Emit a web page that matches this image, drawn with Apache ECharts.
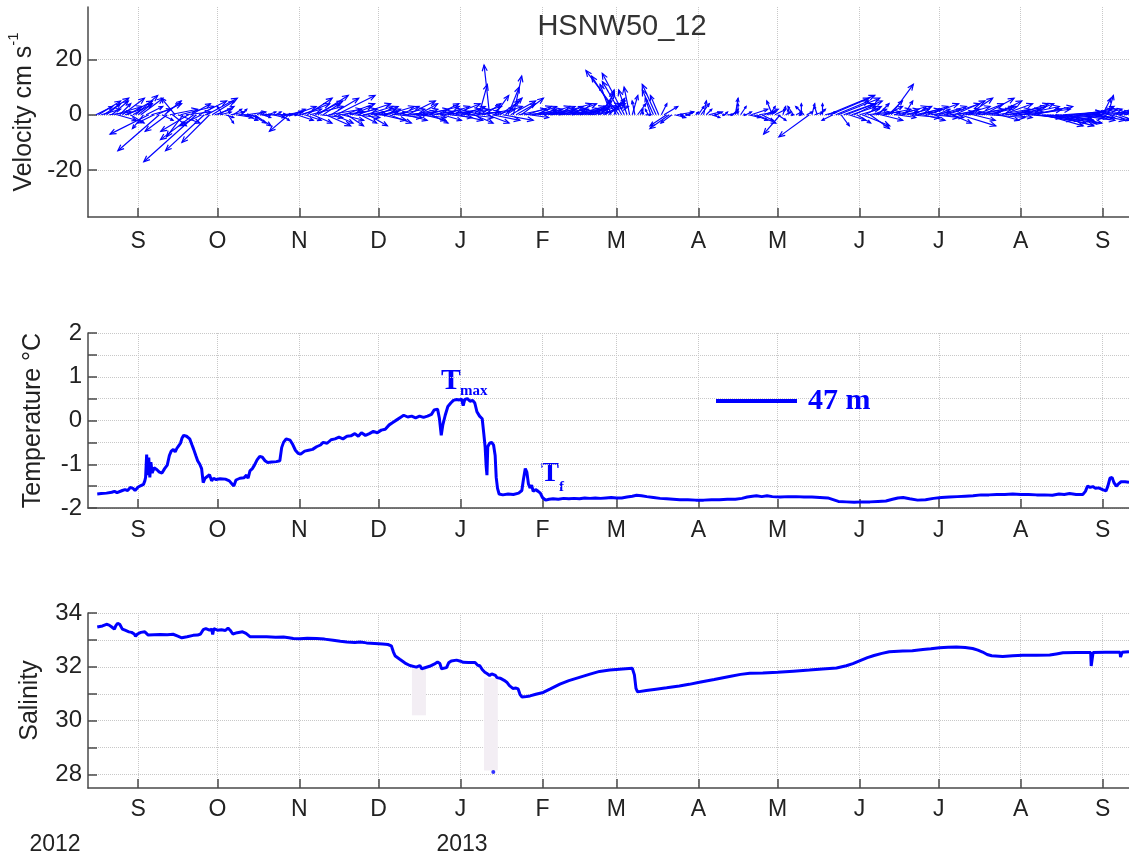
<!DOCTYPE html>
<html>
<head>
<meta charset="utf-8">
<script src="https://cdn.jsdelivr.net/npm/echarts@6.0.0/dist/echarts.min.js"></script>
<style>
  html, body { margin: 0; padding: 0; background: #fff; }
  #chart { width: 1129px; height: 855px; }
</style>
</head>
<body>
<div id="chart"></div>
<script>
// Time is counted in days from 1 Sep 2012.
const monthDays = [0, 30, 61, 91, 122, 153, 181, 212, 242, 273, 303, 334, 365];
const monthLabels = ['S', 'O', 'N', 'D', 'J', 'F', 'M', 'A', 'M', 'J', 'J', 'A', 'S'];
const dayMin = -19;
const dayMax = 375;

// Daily current vectors (cm/s), first sample on 16 Aug 2012.
const velStartDay = -16;
const velU = [
  6, 8, 7, 9, 5, 8, 6, 10, 7, 4, 8, 6, 9, 5, 7, 8,
  5, 8, -4, 6, -14, 7, -6, 9, -15, 4, 6, -8, 10, 5, -5, 8, 12, -6, 9, -10, 7, -12, -19, 10, -8, -14, 11, -10, 8, 6,
  6, 4, -2, 3, 2, 5, 3, 6, 4, 2, 5, 7, 3, 5, 6, 2, 4, 3, 1, 3, 6, 4, 2, 5, 3, 7, 4, -7, 5, 8, 6,
  8, 10, 6, 9, 12, 7, 10, 11, 8, 6, 9, 12, 10, 7, 14, 9, 8, 11, 6, 10, 7, 9, 12, 6, 8, 10, 7, 9, 5, 8,
  7, 9, 6, 10, 8, 5, 11, 9, 7, 12, 8, 10, 6, 9, 11, 7, 10, 8, 12, 9, 6, 10, 8, 11, 7, 9, 12, 8, 10, 6, 9,
  10, 8, 12, 9, 11, 7, 9, 3, 12, 6, 8, -2, 10, 5, 9, 7, 11, 6, 4, 9, 3, 7, 10, 8, 12, 9, 7, 11, 8, 10, 6,
  12, 9, 14, 10, 8, 13, 11, 9, 7, 12, 10, 8, 11, 9, 6, 10, 8, 12, 7, 9, 6, 11, 5, 8, 3, 6, -4, 4,
  -9, -12, -7, -8, -3, -2, 2, -1, 3, 1, 0, 2, -1, -2, -4, -5, -3, 2, 5, -6, -7, -4, 4, 6, 1, 0, 1, 2, -1, 0, 1,
  2, 3, 1, 2, 4, 3, 1, 2, 0, 1, 1, 2, 3, 2, 1, 0, 2, 1, 2, 4, 6, 5, 7, 6, 4, 5, 3, 2, -2, 4,
  3, -6, 1, 2, 0, 1, -2, 2, 1, 0, -3, 2, -11, 1, 3, -1, 2, 0, 4, 17, 14, -4, 12, 15, 3, 11, 13, 6, 9, 8, 5,
  7, 10, 6, 8, 7, 5, 9, 4, 8, 10, 6, 5, 8, 9, 7, 10, 6, 3, 8, 11, 7, 9, 5, 10, 8, 6, 11, 7, 9, 5,
  10, 8, 6, 12, 9, 7, 11, 8, 13, 10, 6, 9, 12, 8, 10, 14, 7, 11, 9, 13, 8, 10, 12, 7, 11, 9, 14, 8, 10, 12, 9,
  14, 11, 16, 12, 15, 10, 13, 17, 12, 14, 18, 11, 15, 13, 16, 12, 14, 10, 13, 11, 15, 9, 12, 10, 8, 11, 9, 12, 7, 10, 8,
  3, 9, 2, 7, 10, 6, 8, 5, 7, 4, 6
];
const velV = [
  3, 5, 2, 6, 4, 1, 5, 3, -2, 4, 6, 2, 5, -3, 4, 7,
  4, 6, -5, 3, -7, 2, -3, 4, -13, -2, 5, -6, 2, -4, 6, -3, 3, -8, 1, -6, 4, -9, -17, 5, -4, -13, 6, -10, 5, 2,
  3, 1, 3, -1, -3, 1, 2, -1, 0, 2, -2, 1, -1, -3, -4, 1, 0, -1, 0, 1, 0, -1, 1, 0, -2, 1, 0, -6, 2, 3, -2,
  2, 4, -2, 6, 3, -3, 5, 7, -1, 4, -4, 2, 6, -3, 7, 1, -2, 4, -4, 2, 3, -1, 4, -3, 1, 3, -4, 2, 0, 3,
  1, -2, 2, 3, -3, 1, 2, -1, 3, 1, -2, 5, 0, 2, -1, 4, 2, -2, 3, 1, -3, 2, 4, 1, -2, 3, 2, -1, 4, 1, -2,
  2, 3, 1, -1, 3, -3, 1, 11, 2, 4, -3, 18, -2, 7, 3, 5, -2, 6, 10, 5, 14, 4, 2, 6, 1, 3, -1, 2, 3, 1, 2,
  2, 3, 2, 1, 3, 4, 2, 1, 3, 2, 4, 1, 3, 2, 1, 3, 2, 4, 1, 3, 5, 3, 8, 4, 9, 5, 11, 6,
  14, 16, 12, 15, 9, 10, 7, 5, 4, 2, 1, 0, 2, 6, 9, 11, 7, 4, 3, -4, -5, -3, -1, 1, 0, -1, 0, 1, 0, 0, 1,
  3, 4, 5, 2, 1, -1, 0, 1, 0, 0, 1, 0, 1, 2, 6, 4, 3, 0, 1, -1, 2, -2, -3, 1, -2, 2, 1, 3, 5, 2,
  -2, -7, 3, 1, 2, 0, 3, 1, 0, 4, 3, 1, -8, 4, 1, 3, 2, 4, 1, 7, 6, -2, 5, 6, -4, 4, 5, -2, 3, 4, -3,
  2, -4, 3, 1, -5, 2, 1, 4, -2, 2, 3, 5, 11, 2, -1, 3, 1, 5, 2, -1, 3, 2, 1, 3, -2, 2, 4, 1, -1, 2,
  3, -1, 2, 4, 1, -3, 5, 2, -4, 3, 1, 6, 2, -2, 4, 3, 1, 6, 2, -1, 3, 5, 2, -2, 4, 1, 3, -1, 2, 4, 1,
  3, 4, 2, -1, 3, 2, -2, -3, -1, -4, -3, -2, -4, -1, -3, -2, 1, -2, -1, 1, -2, 0, 2, -1, 1, 2, -1, 1, 3, -2, 2,
  6, 1, 7, -2, 3, 1, -3, 2, 1, 2, 0
];
const velTicks = [-20, 0, 20];

// Temperature at 47 m: [day, degC]
const temperature = [
  [-15.5, -1.68], [-14, -1.67], [-12, -1.66], [-10, -1.64], [-9, -1.62], [-8, -1.65], [-6, -1.60],
  [-5, -1.58], [-4, -1.60], [-3, -1.53], [-2, -1.55], [-1.2, -1.60], [0, -1.52], [1, -1.49], [2, -1.46],
  [2.5, -1.38], [2.8, -1.30], [3.2, -0.78], [3.6, -1.25], [4.0, -0.85], [4.4, -1.30], [4.8, -0.95],
  [5.3, -1.20], [6, -1.08], [7, -1.12], [8, -1.18], [9, -1.20], [10, -1.10], [11, -1.02], [11.8, -0.80],
  [12.5, -0.70], [13.3, -0.66], [14, -0.72], [14.6, -0.64], [15.3, -0.58], [16, -0.52], [16.6, -0.40],
  [17.2, -0.34], [17.8, -0.30], [18.3, -0.36], [18.8, -0.32], [19.5, -0.42], [20.3, -0.55], [21, -0.66],
  [21.8, -0.80], [22.5, -0.92], [23.3, -1.00], [24, -1.10], [24.6, -1.42], [25.3, -1.32], [26, -1.28],
  [27, -1.24], [27.8, -1.38], [28.5, -1.32], [29.5, -1.35], [31, -1.33], [33, -1.34], [34.5, -1.38],
  [35.5, -1.45], [36.2, -1.50], [37, -1.36], [38.5, -1.32], [40, -1.31], [41, -1.25], [41.6, -1.32],
  [42.3, -1.15], [43.2, -1.10], [44, -1.02], [45, -0.90], [46, -0.82], [47, -0.84], [48, -0.92],
  [49, -0.96], [50.5, -0.95], [52.3, -0.94], [53.6, -0.92], [54.3, -0.62], [55, -0.50], [56, -0.42],
  [57.5, -0.45], [58.5, -0.55], [59.5, -0.68], [60.5, -0.75], [61.5, -0.77], [63, -0.70], [64.5, -0.68],
  [66, -0.66], [67.5, -0.60], [69, -0.56], [70, -0.50], [71.5, -0.52], [73, -0.44], [74.5, -0.42],
  [76, -0.38], [77.5, -0.42], [79, -0.36], [80.5, -0.35], [82, -0.30], [83.3, -0.36], [84.5, -0.28],
  [86, -0.34], [87.5, -0.30], [89, -0.25], [90.5, -0.28], [92, -0.22], [93.5, -0.20], [95, -0.10],
  [96.5, -0.04], [98, 0.02], [99.5, 0.08], [100.5, 0.12], [102, 0.08], [103.5, 0.10], [105, 0.06],
  [106.5, 0.10], [108, 0.07], [109.5, 0.10], [111, 0.14], [112, 0.24], [113.3, 0.26], [114, 0.05],
  [114.7, -0.34], [115.3, -0.10], [116.2, 0.12], [117.2, 0.32], [118.3, 0.40], [119.3, 0.46],
  [120.5, 0.48], [121.5, 0.47], [122.4, 0.49], [123, 0.34], [123.6, 0.48], [124.6, 0.50], [125.6, 0.44],
  [126.6, 0.46], [127.4, 0.40], [128.2, 0.20], [129.2, 0.10], [130.2, 0.04], [130.8, -0.30],
  [131.3, -0.60], [131.7, -1.05], [132, -1.25], [132.3, -0.60], [133, -0.52], [133.8, -0.50],
  [134.5, -0.56], [135.1, -0.80], [135.5, -1.30], [136, -1.55], [136.6, -1.68], [138, -1.70],
  [140, -1.68], [142, -1.69], [144, -1.66], [145.2, -1.60], [145.8, -1.35], [146.5, -1.10],
  [147.1, -1.18], [147.7, -1.45], [148.3, -1.54], [148.9, -1.48], [149.5, -1.62], [150.4, -1.58],
  [151.4, -1.62], [152.2, -1.66], [153, -1.76], [154.2, -1.82], [155.5, -1.80], [157, -1.79],
  [159, -1.80], [161, -1.78], [163, -1.79], [165, -1.78], [167, -1.79], [169, -1.77], [171, -1.78],
  [173, -1.77], [175, -1.78], [177, -1.77], [179, -1.76], [181, -1.77], [183, -1.77], [185, -1.75],
  [187, -1.73], [188.6, -1.71], [190.5, -1.72], [192.5, -1.74], [195, -1.76], [197.5, -1.78],
  [200, -1.79], [202.5, -1.80], [205, -1.81], [208, -1.81], [211, -1.82], [214, -1.82], [217, -1.81],
  [220, -1.81], [223, -1.80], [226, -1.80], [228.5, -1.78], [230.5, -1.75], [232.5, -1.73],
  [234, -1.72], [236, -1.74], [238, -1.72], [240, -1.74], [243, -1.75], [246, -1.74], [249, -1.74],
  [252, -1.75], [255, -1.75], [258, -1.76], [261, -1.77], [263, -1.81], [265, -1.85], [268, -1.86],
  [271, -1.87], [274, -1.86], [277, -1.86], [280, -1.85], [283, -1.84], [285.5, -1.80], [287.5, -1.77],
  [289.5, -1.76], [292, -1.79], [295, -1.82], [298, -1.81], [301, -1.78], [304, -1.76], [307, -1.75],
  [310, -1.74], [313, -1.73], [316, -1.72], [319, -1.70], [322, -1.70], [325, -1.69], [328, -1.69],
  [331, -1.68], [334, -1.69], [337, -1.69], [340, -1.70], [343, -1.70], [346, -1.71], [348.5, -1.68],
  [350.5, -1.69], [352.5, -1.67], [355, -1.69], [357.5, -1.69], [358.5, -1.62], [359.3, -1.50],
  [360.3, -1.53], [361.3, -1.51], [362.3, -1.55], [363.5, -1.54], [365, -1.58], [366.3, -1.61],
  [367, -1.50], [367.8, -1.32], [368.6, -1.30], [369.3, -1.42], [370.2, -1.50], [371, -1.45],
  [372, -1.40], [373.5, -1.40], [375, -1.41]
];

// Salinity at 47 m: [day, psu]
const salinity = [
  [-15.5, 33.48], [-13.5, 33.52], [-12, 33.58], [-11, 33.55], [-10, 33.48], [-9, 33.40], [-8.5, 33.52],
  [-7.8, 33.62], [-7, 33.58], [-6, 33.40], [-5, 33.36], [-3.5, 33.30], [-2.5, 33.28], [-1.5, 33.22],
  [-1, 33.14], [-0.3, 33.22], [1, 33.28], [2.5, 33.30], [3.8, 33.18], [6, 33.19], [8.3, 33.20],
  [11, 33.19], [13.2, 33.21], [15, 33.14], [16.5, 33.08], [18.5, 33.12], [20.8, 33.17], [22.5, 33.18],
  [23.6, 33.22], [24.6, 33.38], [25.6, 33.42], [27, 33.36], [27.8, 33.40], [28.2, 33.20], [28.6, 33.42],
  [30, 33.36], [31.5, 33.38], [33, 33.35], [34, 33.44], [34.8, 33.36], [35.8, 33.22], [37.5, 33.27],
  [39.5, 33.30], [40.8, 33.24], [42.3, 33.12], [45, 33.12], [48.6, 33.12], [52, 33.10], [55, 33.11],
  [57, 33.08], [58.7, 33.05], [61.2, 33.04], [64, 33.06], [67.5, 33.05], [70.5, 33.03], [73.8, 32.99],
  [76.5, 32.95], [79, 32.92], [82, 32.90], [84, 32.92], [86.4, 32.89], [89.5, 32.87], [92.5, 32.85],
  [94.5, 32.83], [95.8, 32.78], [96.6, 32.55], [97.3, 32.40], [99, 32.28], [101, 32.14], [102.8, 32.05],
  [105.3, 31.99], [106.6, 32.05], [107.3, 31.93], [108, 31.98], [110.3, 32.02], [112, 32.10],
  [113.3, 32.18], [114.2, 32.12], [114.8, 31.93], [116.7, 31.97], [117.5, 32.15], [118.5, 32.22],
  [120.5, 32.25], [122, 32.21], [123, 32.17], [125, 32.16], [127.5, 32.16], [128.5, 32.06],
  [129.3, 32.04], [130.2, 31.90], [131.2, 31.80], [132, 31.75], [133, 31.68], [133.8, 31.74],
  [134.5, 31.80], [135.2, 31.68], [135.8, 31.60], [137, 31.58], [138.5, 31.50], [139.5, 31.43],
  [140.5, 31.30], [141.8, 31.20], [143, 31.21], [143.8, 31.18], [144.5, 30.98], [145.2, 30.88],
  [147, 30.90], [148.3, 30.92], [150.5, 30.98], [153.3, 31.05], [156, 31.18], [159.6, 31.36],
  [163, 31.49], [167, 31.61], [171, 31.73], [174.6, 31.83], [178.5, 31.88], [183.3, 31.92],
  [187, 31.95], [187.8, 31.70], [188.4, 31.20], [189, 31.07], [192.3, 31.12], [196, 31.17],
  [200, 31.22], [204.8, 31.29], [208.5, 31.35], [212.4, 31.43], [218, 31.53], [223.8, 31.64],
  [228, 31.72], [231.5, 31.76], [236.4, 31.77], [242, 31.80], [248, 31.84], [254, 31.88], [259, 31.92],
  [264.3, 31.96], [268, 32.04], [270.5, 32.12], [273, 32.22], [276, 32.34], [278.5, 32.42],
  [281.5, 32.50], [284.3, 32.56], [289.4, 32.59], [293, 32.60], [297, 32.64], [300, 32.67],
  [303.3, 32.71], [306.5, 32.73], [309.7, 32.74], [313, 32.72], [315.8, 32.68], [317.8, 32.62],
  [319.6, 32.55], [321.3, 32.46], [323, 32.41], [327.2, 32.38], [331, 32.41], [334.8, 32.43],
  [340, 32.43], [345, 32.44], [347.5, 32.48], [350, 32.52], [355, 32.53], [360.5, 32.53],
  [360.7, 32.03], [361.2, 32.03], [361.4, 32.53], [366, 32.54], [371.6, 32.54], [371.8, 32.36],
  [372.2, 32.36], [372.4, 32.54], [375, 32.56]
];
// Isolated low reading
const salinityOutlier = [[134.4, 28.09]];
// Masked stretches: [dayStart, salTop, dayEnd, salBottom]
const salinityMasks = [[103.6, 31.95, 108.9, 30.2], [130.9, 31.58, 136.1, 28.15]];
const salTicks = [28, 29, 30, 31, 32, 33, 34];
const salLabels = [28, 30, 32, 34];

const BLUE = '#0000ff';
const SANS = "'Liberation Sans', Arial, Helvetica, sans-serif";
const SERIF = "'Liberation Serif', 'Times New Roman', serif";
const INK = '#222222';
const AXIS = '#4a4a4a';
const GRIDLINE = { show: true, lineStyle: { type: 'dotted', color: '#c8c8c8', width: 1 } };

const velData = velU.map((u, i) => [velStartDay + i, u, velV[i]]);

function xAxisFor(gridIndex, margin) {
  return {
    type: 'value', gridIndex, min: dayMin, max: dayMax,
    axisLine: { show: true, onZero: false, lineStyle: { color: AXIS, width: 1.5 } },
    axisTick: { show: true, inside: true, length: 9, customValues: monthDays, lineStyle: { color: AXIS, width: 1.5 } },
    axisLabel: {
      show: true, customValues: monthDays, margin,
      fontFamily: SANS, fontSize: 23, color: INK,
      formatter: v => monthLabels[monthDays.indexOf(v)] || ''
    },
    splitLine: GRIDLINE
  };
}

function yAxisBase(gridIndex) {
  return {
    type: 'value', gridIndex,
    axisLine: { show: true, onZero: false, lineStyle: { color: AXIS, width: 1.5 } },
    axisTick: { show: true, inside: true, length: 9, lineStyle: { color: AXIS, width: 1.5 } },
    axisLabel: { show: true, margin: 6, fontFamily: SANS, fontSize: 24, color: INK },
    splitLine: GRIDLINE,
    nameLocation: 'middle',
    nameRotate: 90,
    nameTextStyle: { fontFamily: SANS, fontSize: 25, color: INK }
  };
}

const yVel = yAxisBase(0);
Object.assign(yVel, {
  min: -37, max: 39,
  name: '{a|Velocity cm s}{b|-1}',
  nameGap: 50
});
yVel.axisTick.customValues = velTicks;
yVel.axisLabel.customValues = velTicks;
yVel.nameTextStyle = {
  fontFamily: SANS, color: INK,
  rich: {
    a: { fontFamily: SANS, fontSize: 25, color: INK, lineHeight: 30, verticalAlign: 'bottom' },
    b: { fontFamily: SANS, fontSize: 15, color: INK, lineHeight: 30, verticalAlign: 'top' }
  }
};

const yTemp = yAxisBase(1);
Object.assign(yTemp, { min: -2, max: 2, interval: 0.5, name: 'Temperature °C', nameGap: 42 });
yTemp.axisLabel.formatter = v => (Number.isInteger(v) ? String(v) : '');

const ySal = yAxisBase(2);
Object.assign(ySal, { min: 27.5, max: 34, name: 'Salinity', nameGap: 45 });
ySal.axisTick.customValues = salTicks;
ySal.axisLabel.customValues = salLabels;

// Stick vector: shaft from (day, 0) along (u, v) in the y axis' units, with an open head.
function renderArrow(params, api) {
  const day = api.value(0);
  const u = api.value(1);
  const v = api.value(2);
  const o = api.coord([day, 0]);
  const k = api.size([0, 1])[1];
  const tip = [o[0] + u * k, o[1] - v * k];
  const dx = tip[0] - o[0];
  const dy = tip[1] - o[1];
  const len = Math.sqrt(dx * dx + dy * dy);
  const style = { stroke: BLUE, lineWidth: 1.2, fill: null };
  const children = [{ type: 'polyline', shape: { points: [o, tip] }, style }];
  if (len > 1) {
    const th = Math.atan2(dy, dx);
    const h = Math.min(6.5, Math.max(2.5, len * 0.25));
    const a = 0.4;
    children.push({
      type: 'polyline',
      shape: {
        points: [
          [tip[0] - h * Math.cos(th - a), tip[1] - h * Math.sin(th - a)],
          tip,
          [tip[0] - h * Math.cos(th + a), tip[1] - h * Math.sin(th + a)]
        ]
      },
      style
    });
  }
  return { type: 'group', children };
}

const chart = echarts.init(document.getElementById('chart'), null, { renderer: 'canvas' });
chart.setOption({
  animation: false,
  backgroundColor: '#ffffff',
  title: {
    text: 'HSNW50_12', left: 622, top: 12, textAlign: 'center', padding: 0,
    textStyle: { fontFamily: SANS, fontSize: 29, fontWeight: 'normal', color: '#333333' }
  },
  legend: {
    data: ['47 m'], left: 711, top: 381, icon: 'rect', itemWidth: 81, itemHeight: 4,
    selectedMode: false,
    textStyle: { fontFamily: SERIF, fontWeight: 'bold', fontSize: 30, color: BLUE, padding: [0, 0, 0, 6] }
  },
  grid: [
    { left: 88, right: 0, top: 7, height: 210, outerBoundsMode: 'none' },
    { left: 88, right: 0, top: 333, height: 175, outerBoundsMode: 'none' },
    { left: 88, right: 0, top: 613, height: 175, outerBoundsMode: 'none' }
  ],
  xAxis: [xAxisFor(0, 13), xAxisFor(1, 11), xAxisFor(2, 10)],
  yAxis: [yVel, yTemp, ySal],
  series: [
    {
      name: 'Velocity', type: 'custom', xAxisIndex: 0, yAxisIndex: 0,
      data: velData, encode: { x: 0, y: 2 }, clip: true,
      renderItem: renderArrow
    },
    {
      name: '47 m', type: 'line', xAxisIndex: 1, yAxisIndex: 1,
      data: temperature, showSymbol: false, symbol: 'none',
      lineStyle: { color: BLUE, width: 3 }, itemStyle: { color: BLUE }
    },
    {
      name: 'Salinity', type: 'line', xAxisIndex: 2, yAxisIndex: 2,
      data: salinity, showSymbol: false, symbol: 'none',
      lineStyle: { color: BLUE, width: 3 }, itemStyle: { color: BLUE },
      markArea: {
        silent: true,
        itemStyle: { color: '#f3eef4' },
        data: salinityMasks.map(m => [{ coord: [m[0], m[1]] }, { coord: [m[2], m[3]] }])
      }
    },
    {
      name: 'Salinity outlier', type: 'scatter', xAxisIndex: 2, yAxisIndex: 2,
      data: salinityOutlier, symbolSize: 4, itemStyle: { color: BLUE }
    }
  ],
  graphic: [
    { type: 'text', left: 441, top: 366, style: { text: 'T', font: 'bold 30px ' + SERIF, fill: BLUE } },
    { type: 'text', left: 460, top: 384, style: { text: 'max', font: 'bold 15px ' + SERIF, fill: BLUE } },
    { type: 'text', left: 541, top: 461, style: { text: 'T', font: 'bold 27px ' + SERIF, fill: BLUE } },
    { type: 'text', left: 559, top: 480, style: { text: 'f', font: 'bold 15px ' + SERIF, fill: BLUE } },
    { type: 'text', x: 55, y: 845, style: { text: '2012', font: '23px ' + SANS, fill: INK, align: 'center', verticalAlign: 'middle' } },
    { type: 'text', x: 462, y: 845, style: { text: '2013', font: '23px ' + SANS, fill: INK, align: 'center', verticalAlign: 'middle' } }
  ]
});
</script>
</body>
</html>
